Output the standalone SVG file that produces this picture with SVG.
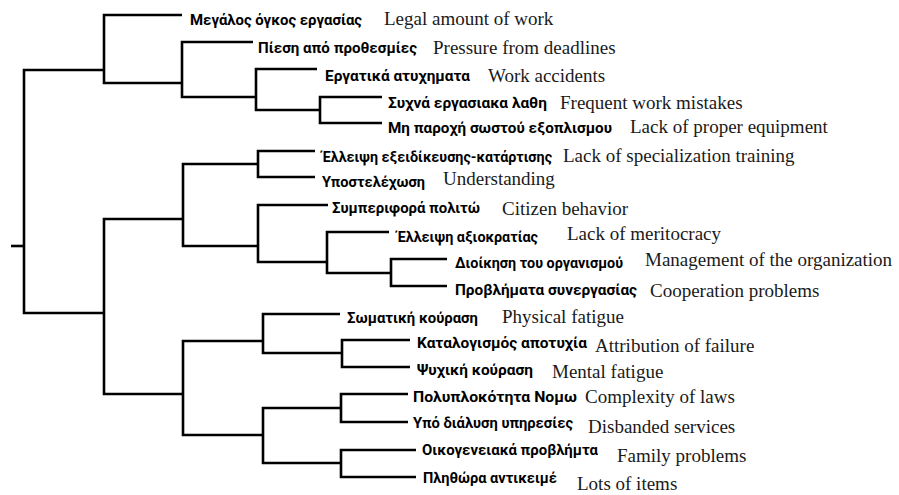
<svg xmlns="http://www.w3.org/2000/svg" width="899" height="495" viewBox="0 0 899 495">
<style>
.ln{fill:none;stroke:#000;stroke-width:2.6;stroke-linejoin:miter;stroke-linecap:butt}
.gr{font-family:Roboto,"Noto Sans","DejaVu Sans",sans-serif;font-weight:700;font-size:15.5px;fill:#000}
.en{font-family:"Liberation Serif","Times New Roman",serif;font-size:19px;fill:#1a1a1a}
</style>
<rect width="899" height="495" fill="#fff"/>
<g id="connectors" class="ln">
<path d="M11,246 H24"/>
<path d="M104,70 H24 V313 H104"/>
<path d="M182,15 H104 V83 H182"/>
<path d="M253,42 H182 V97 H256"/>
<path d="M317,69 H256 V110 H320"/>
<path d="M382,97 H320 V123 H382"/>
<path d="M183,219 H104 V394 H183"/>
<path d="M258,164 H183 V246 H258"/>
<path d="M315,151 H258 V177 H315"/>
<path d="M328,205 H258 V262 H327"/>
<path d="M389,232 H327 V273 H391"/>
<path d="M447,259 H391 V286 H447"/>
<path d="M263,341 H183 V435 H263"/>
<path d="M340,314 H263 V353 H342"/>
<path d="M410,340 H342 V367 H410"/>
<path d="M341,408 H263 V463 H341"/>
<path d="M408,394 H341 V422 H408"/>
<path d="M416,450 H341 V477 H416"/>
</g>
<g id="n1"><text class="gr" x="190" y="25" textLength="172" lengthAdjust="spacingAndGlyphs">Μεγάλος όγκος εργασίας</text><text class="en" x="384" y="25">Legal amount of work</text></g>
<g id="n2"><text class="gr" x="258" y="53" textLength="159" lengthAdjust="spacingAndGlyphs">Πίεση από προθεσμίες</text><text class="en" x="433" y="54">Pressure from deadlines</text></g>
<g id="n3"><text class="gr" x="325" y="81" textLength="145" lengthAdjust="spacingAndGlyphs">Εργατικά ατυχηματα</text><text class="en" x="488" y="82">Work accidents</text></g>
<g id="n4"><text class="gr" x="388" y="108" textLength="159" lengthAdjust="spacingAndGlyphs">Συχνά εργασιακα λαθη</text><text class="en" x="560" y="109">Frequent work mistakes</text></g>
<g id="n5"><text class="gr" x="388" y="133" textLength="224" lengthAdjust="spacingAndGlyphs">Μη παροχή σωστού εξοπλισμου</text><text class="en" x="630" y="133">Lack of proper equipment</text></g>
<g id="n6"><text class="gr" x="322" y="162" textLength="230" lengthAdjust="spacingAndGlyphs">Έλλειψη εξειδίκευσης-κατάρτισης</text><text class="en" x="563" y="162">Lack of specialization training</text></g>
<g id="n7"><text class="gr" x="322" y="187" textLength="103" lengthAdjust="spacingAndGlyphs">Υποστελέχωση</text><text class="en" x="443" y="185">Understanding</text></g>
<g id="n8"><text class="gr" x="332" y="213" textLength="148" lengthAdjust="spacingAndGlyphs">Συμπεριφορά πολιτώ</text><text class="en" x="502" y="215">Citizen behavior</text></g>
<g id="n9"><text class="gr" x="397" y="242" textLength="141" lengthAdjust="spacingAndGlyphs">Έλλειψη αξιοκρατίας</text><text class="en" x="567" y="240">Lack of meritocracy</text></g>
<g id="n10"><text class="gr" x="455" y="268" textLength="168" lengthAdjust="spacingAndGlyphs">Διοίκηση του οργανισμού</text><text class="en" x="645" y="266">Management of the organization</text></g>
<g id="n11"><text class="gr" x="455" y="295" textLength="182" lengthAdjust="spacingAndGlyphs">Προβλήματα συνεργασίας</text><text class="en" x="650" y="297">Cooperation problems</text></g>
<g id="n12"><text class="gr" x="347" y="323" textLength="131" lengthAdjust="spacingAndGlyphs">Σωματική κούραση</text><text class="en" x="502" y="323">Physical fatigue</text></g>
<g id="n13"><text class="gr" x="417" y="348" textLength="170" lengthAdjust="spacingAndGlyphs">Καταλογισμός αποτυχία</text><text class="en" x="595" y="352">Attribution of failure</text></g>
<g id="n14"><text class="gr" x="417" y="375" textLength="116" lengthAdjust="spacingAndGlyphs">Ψυχική κούραση</text><text class="en" x="552" y="378">Mental fatigue</text></g>
<g id="n15"><text class="gr" x="413" y="402" textLength="164" lengthAdjust="spacingAndGlyphs">Πολυπλοκότητα Νομω</text><text class="en" x="585" y="403">Complexity of laws</text></g>
<g id="n16"><text class="gr" x="413" y="428" textLength="160" lengthAdjust="spacingAndGlyphs">Υπό διάλυση υπηρεσίες</text><text class="en" x="588" y="433">Disbanded services</text></g>
<g id="n17"><text class="gr" x="422" y="455" textLength="176" lengthAdjust="spacingAndGlyphs">Οικογενειακά προβλήμτα</text><text class="en" x="617" y="462">Family problems</text></g>
<g id="n18"><text class="gr" x="423" y="483" textLength="134" lengthAdjust="spacingAndGlyphs">Πληθώρα αντικειμέ</text><text class="en" x="577" y="490">Lots of items</text></g>
</svg>
